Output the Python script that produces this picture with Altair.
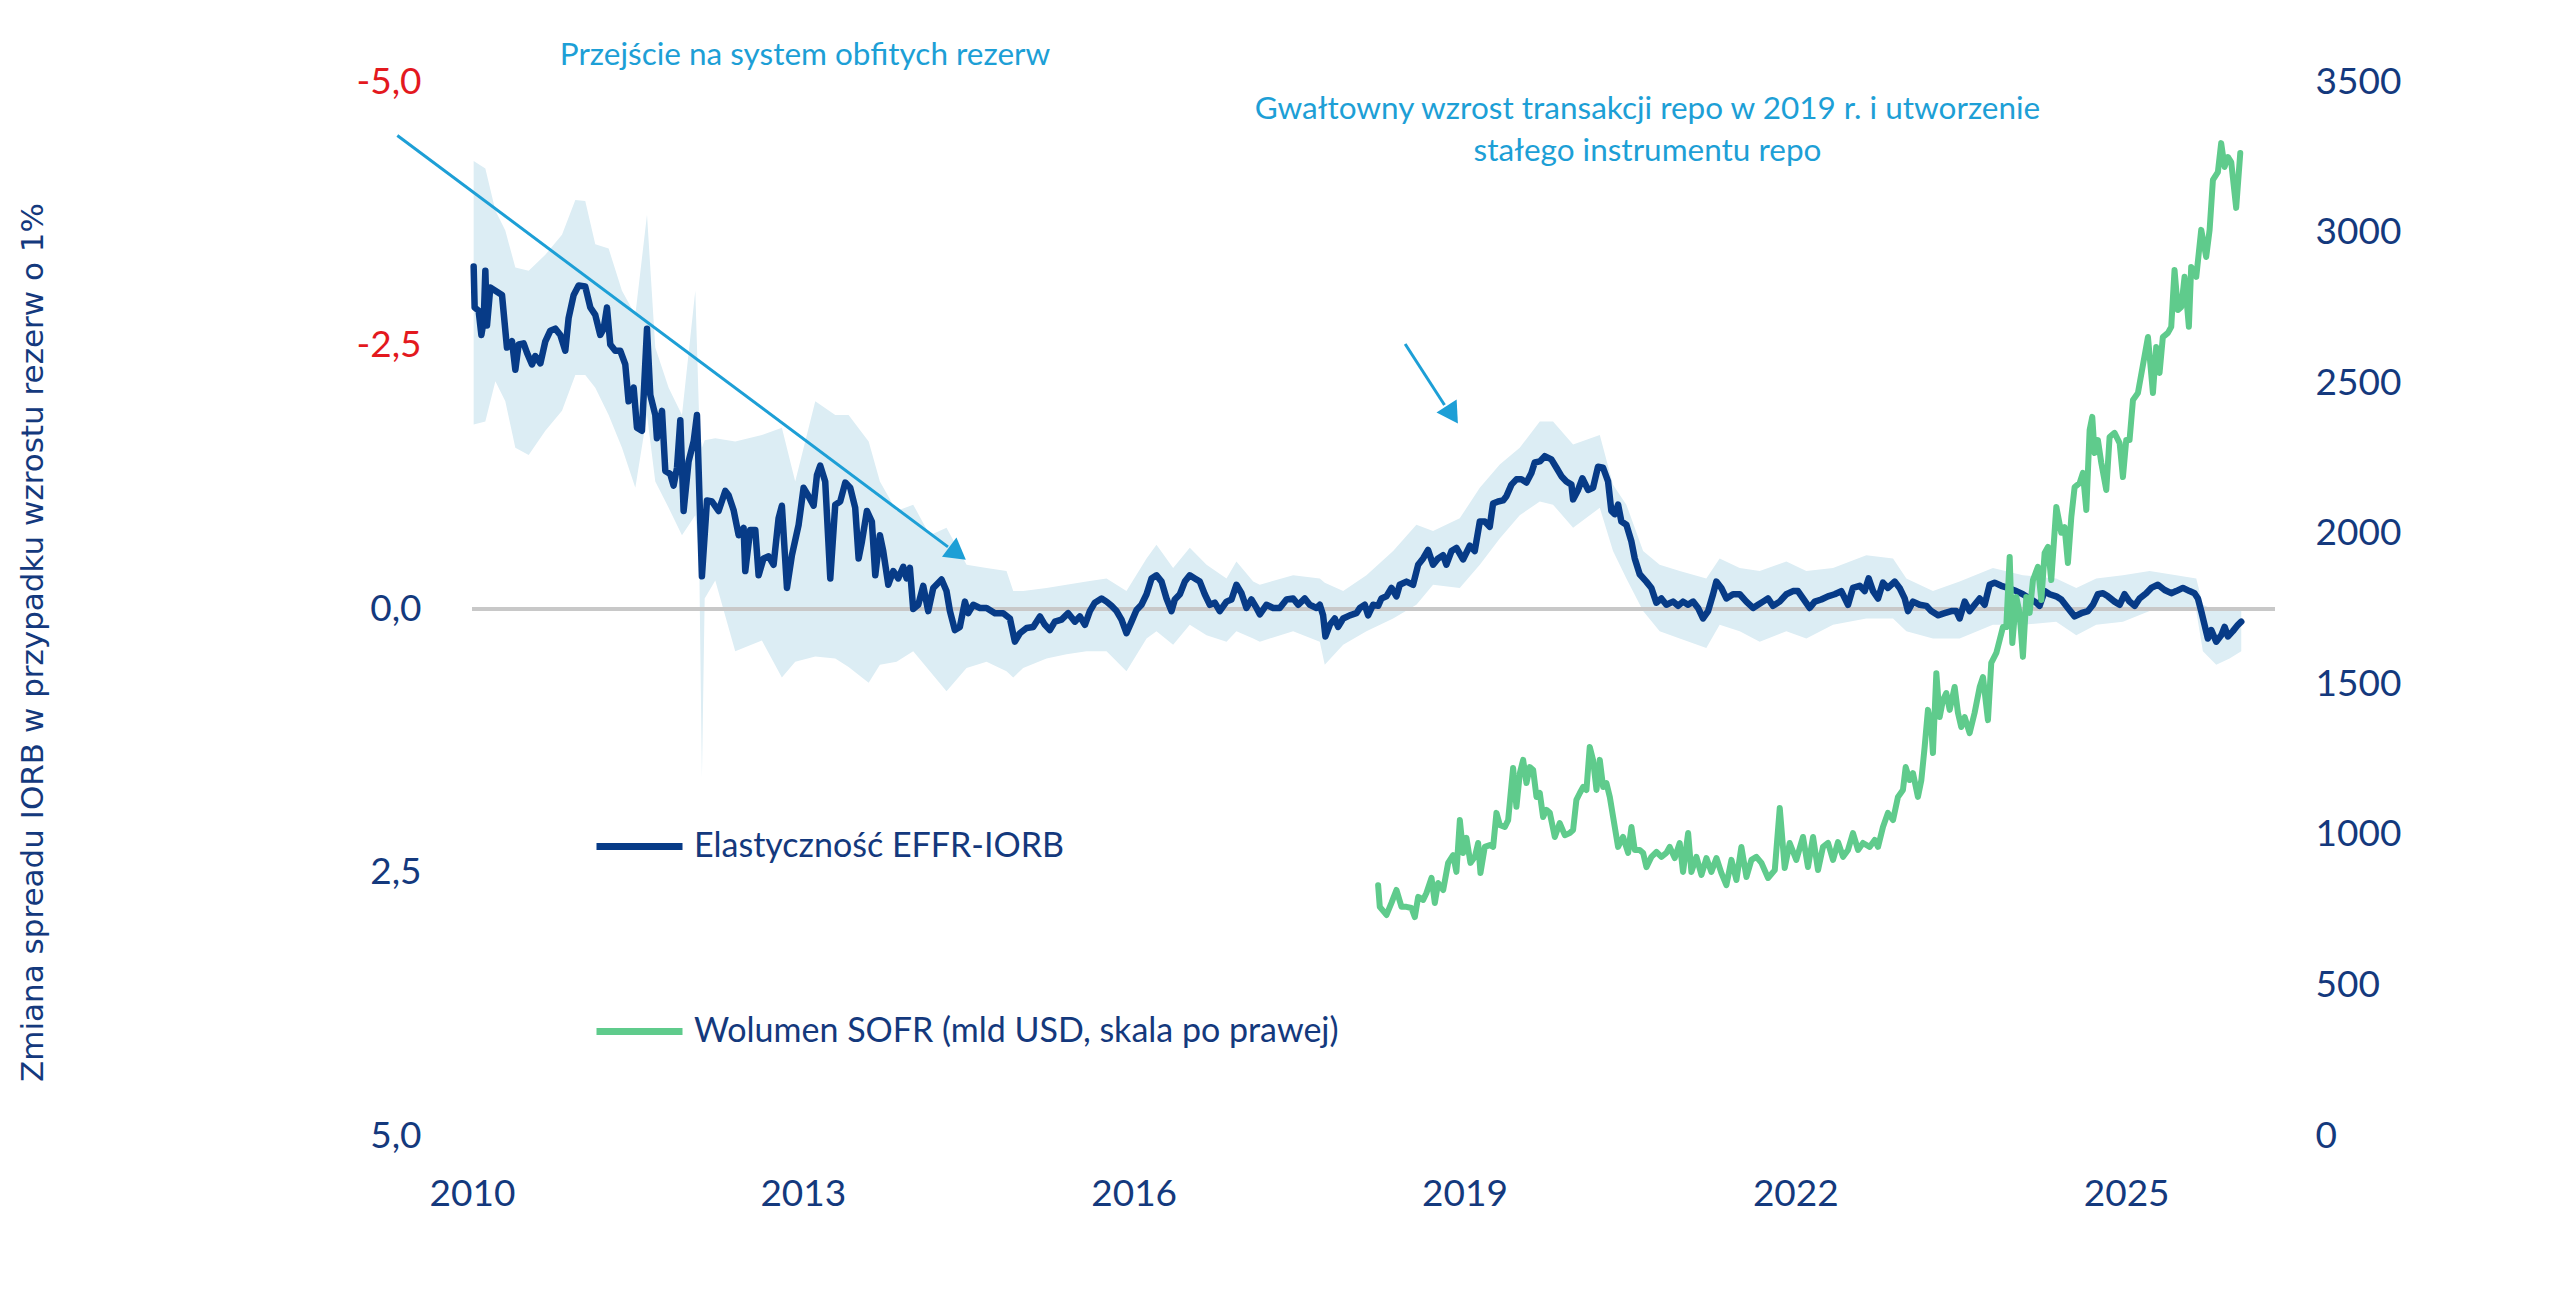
import altair as alt
import pandas as pd

NAVY = "#14397d"
BLUE = "#073b87"
GREEN = "#5fcb8c"
BAND = "#dcedf4"
CYAN = "#1d9fd6"
RED = "#e3191e"
FONT = "Lato"

# ---- Elasticity EFFR-IORB (years since 2010, value) ----
el_t = [0.015, 0.024, 0.060, 0.085, 0.106, 0.121, 0.136, 0.166, 0.212, 0.272, 0.317, 0.363, 0.393, 0.423,
        0.468, 0.499, 0.544, 0.574, 0.620, 0.665, 0.710, 0.755, 0.801, 0.846, 0.876, 0.922, 0.967, 1.027,
        1.073, 1.118, 1.163, 1.194, 1.224, 1.254, 1.299, 1.345, 1.390, 1.420, 1.466, 1.496, 1.541, 1.587,
        1.617, 1.662, 1.677, 1.723, 1.753, 1.798, 1.828, 1.859, 1.889, 1.919, 1.964, 2.010, 2.040, 2.085,
        2.131, 2.176, 2.236, 2.297, 2.327, 2.372, 2.418, 2.463, 2.478, 2.523, 2.569, 2.599, 2.644, 2.690,
        2.735, 2.780, 2.810, 2.856, 2.901, 2.962, 3.007, 3.052, 3.098, 3.128, 3.158, 3.203, 3.249, 3.294,
        3.339, 3.385, 3.430, 3.475, 3.506, 3.536, 3.581, 3.626, 3.657,
        3.699, 3.729, 3.775, 3.820, 3.865, 3.911, 3.941, 3.971, 4.001, 4.047, 4.092, 4.137, 4.183, 4.258,
        4.303, 4.334, 4.379, 4.424, 4.470, 4.500, 4.545, 4.606, 4.666, 4.742, 4.817, 4.878, 4.923, 4.968,
        5.029, 5.089, 5.150, 5.195, 5.240, 5.286, 5.346, 5.406, 5.467, 5.512, 5.558, 5.603, 5.648, 5.709,
        5.754, 5.799, 5.845, 5.890, 5.935, 5.981, 6.026, 6.071, 6.117, 6.162, 6.207, 6.253, 6.298, 6.343,
        6.373, 6.419, 6.464, 6.509, 6.555, 6.600, 6.645, 6.691, 6.736, 6.781, 6.842, 6.887, 6.932, 6.978,
        7.023, 7.068, 7.114,
        7.144, 7.204, 7.265, 7.325, 7.386, 7.446, 7.492, 7.552, 7.597, 7.658, 7.688, 7.718, 7.739, 7.779,
        7.824, 7.854, 7.900, 7.960, 8.020, 8.051, 8.096, 8.126, 8.171, 8.217, 8.247, 8.292, 8.338, 8.383,
        8.413, 8.474, 8.534, 8.580, 8.625, 8.670, 8.715, 8.761, 8.806, 8.836, 8.882, 8.927, 8.987, 9.048,
        9.093, 9.139, 9.184, 9.229, 9.259, 9.305, 9.350, 9.380, 9.426, 9.471, 9.516, 9.562, 9.607, 9.637,
        9.683, 9.728, 9.788, 9.834, 9.879, 9.924, 9.970, 9.985, 10.030, 10.069, 10.121, 10.166, 10.211,
        10.257, 10.302, 10.332, 10.362, 10.393, 10.423, 10.468, 10.514, 10.544,
        10.589, 10.649, 10.695, 10.740, 10.785, 10.831, 10.891, 10.937, 10.982, 11.027, 11.073, 11.118,
        11.163, 11.209, 11.254, 11.284, 11.329, 11.375, 11.435, 11.496, 11.556, 11.617, 11.662, 11.707,
        11.752, 11.798, 11.858, 11.919, 11.979, 12.024, 12.070, 12.130, 12.176, 12.236, 12.296, 12.357,
        12.417, 12.478, 12.523, 12.584, 12.629, 12.665, 12.705, 12.750, 12.795, 12.840, 12.901, 12.946,
        12.992, 13.022, 13.067, 13.128, 13.188, 13.233, 13.294, 13.354, 13.415, 13.460, 13.490, 13.536,
        13.581, 13.626, 13.672, 13.717,
        13.762, 13.807, 13.868, 13.928, 14.004, 14.064, 14.125, 14.185, 14.215, 14.261, 14.306, 14.366,
        14.412, 14.472, 14.533, 14.593, 14.654, 14.699, 14.744, 14.790, 14.835, 14.895, 14.941, 14.986,
        15.031, 15.077, 15.122, 15.182, 15.228, 15.288, 15.349, 15.409, 15.454, 15.515, 15.575, 15.620,
        15.651, 15.681, 15.711, 15.741, 15.772, 15.817, 15.862, 15.893, 15.923, 15.968, 16.014, 16.044]
el_v = [-3.25, -2.86, -2.83, -2.60, -2.73, -3.21, -2.69, -3.05, -3.02, -2.98, -2.48, -2.54, -2.27, -2.51,
        -2.52, -2.43, -2.32, -2.40, -2.33, -2.54, -2.64, -2.66, -2.60, -2.45, -2.76, -2.98, -3.07, -3.06,
        -2.86, -2.79, -2.60, -2.66, -2.86, -2.51, -2.45, -2.45, -2.32, -1.97, -2.10, -1.72, -1.69, -2.66,
        -2.03, -1.84, -1.62, -1.88, -1.31, -1.28, -1.17, -1.34, -1.79, -0.93, -1.40, -1.59, -1.84, -0.31,
        -1.03, -1.02, -0.93, -1.12, -1.08, -0.94, -0.70, -0.77, -0.36, -0.75, -0.75, -0.32, -0.48, -0.50,
        -0.42, -0.86, -0.98, -0.20, -0.51, -0.80, -1.15, -1.07, -0.98, -1.27, -1.36, -1.21, -0.29, -0.99,
        -1.02, -1.20, -1.15, -0.96, -0.48, -0.64, -0.93, -0.83, -0.32,
        -0.70, -0.55, -0.23, -0.36, -0.29, -0.40, -0.29, -0.39, 0.00, -0.04, -0.22, 0.02, -0.20, -0.28,
        -0.17, 0.02, 0.20, 0.17, -0.07, 0.04, -0.04, -0.01, -0.01, 0.04, 0.04, 0.09, 0.31, 0.23,
        0.18, 0.17, 0.07, 0.15, 0.20, 0.12, 0.10, 0.04, 0.12, 0.07, 0.15, 0.02, -0.06, -0.10,
        -0.07, -0.03, 0.02, 0.10, 0.23, 0.12, 0.01, -0.04, -0.14, -0.29, -0.32, -0.26, -0.10, 0.02,
        -0.09, -0.14, -0.26, -0.32, -0.29, -0.26, -0.14, -0.04, -0.06, 0.02, -0.07, -0.09, -0.23, -0.15,
        -0.01, -0.09, -0.01,
        0.05, -0.04, -0.01, -0.01, -0.09, -0.10, -0.04, -0.10, -0.04, -0.01, -0.04, 0.06, 0.26, 0.15,
        0.09, 0.17, 0.09, 0.06, 0.04, -0.01, -0.04, 0.06, -0.04, -0.03, -0.10, -0.12, -0.20, -0.12,
        -0.23, -0.26, -0.23, -0.42, -0.48, -0.56, -0.42, -0.48, -0.51, -0.42, -0.55, -0.58, -0.47, -0.60,
        -0.55, -0.83, -0.83, -0.78, -1.00, -1.02, -1.03, -1.07, -1.18, -1.23, -1.23, -1.20, -1.29, -1.39,
        -1.40, -1.45, -1.42, -1.34, -1.26, -1.21, -1.18, -1.04, -1.13, -1.24, -1.13, -1.15, -1.35,
        -1.34, -1.21, -0.93, -0.90, -0.99, -0.83, -0.80, -0.64, -0.48,
        -0.33, -0.26, -0.20, -0.06, -0.10, -0.04, -0.07, -0.03, -0.07, -0.04, -0.07, -0.01,
        0.09, 0.02, -0.14, -0.26, -0.20, -0.10, -0.14, -0.14, -0.07, -0.01, -0.04, -0.07,
        -0.10, -0.03, -0.07, -0.14, -0.17, -0.17, -0.10, -0.01, -0.07, -0.09, -0.12, -0.14,
        -0.17, -0.04, -0.20, -0.22, -0.17, -0.29, -0.17, -0.10, -0.25, -0.20, -0.26, -0.20,
        -0.10, 0.02, -0.07, -0.04, -0.03, 0.02, 0.06, 0.04, 0.02, 0.02, 0.09, -0.07,
        0.02, -0.04, -0.10, -0.04,
        -0.23, -0.25, -0.22, -0.20, -0.17, -0.14, -0.10, -0.06, -0.03, -0.17, -0.14, -0.12,
        -0.09, -0.01, 0.07, 0.04, 0.02, -0.04, -0.14, -0.15, -0.12, -0.07, -0.04, -0.14,
        -0.07, -0.03, -0.10, -0.15, -0.20, -0.23, -0.18, -0.15, -0.17, -0.20, -0.17, -0.15,
        -0.10, 0.02, 0.15, 0.28, 0.20, 0.31, 0.25, 0.17, 0.26, 0.21, 0.15, 0.12]

# ---- Confidence band (years since 2010, upper edge on chart, lower edge on chart) ----
band_t = [0.015, 0.121, 0.212, 0.302, 0.393, 0.514, 0.665, 0.816, 0.937, 1.027, 1.118, 1.239, 1.360,
          1.481, 1.587, 1.662, 1.783, 1.904, 2.025, 2.060, 2.085, 2.110, 2.206, 2.387, 2.629, 2.810,
          2.931, 3.113, 3.294, 3.415, 3.597, 3.699, 3.850, 4.001, 4.152, 4.303, 4.485, 4.666, 4.847,
          4.908, 4.998, 5.210, 5.391, 5.573, 5.754, 5.935, 6.117, 6.207, 6.358, 6.509, 6.661, 6.842,
          6.932, 7.084, 7.144, 7.446, 7.688, 7.733, 7.900, 8.111, 8.353, 8.564, 8.715, 8.957, 9.139,
          9.320, 9.501, 9.683, 9.803, 9.985, 10.227, 10.347, 10.468, 10.620, 10.770, 10.952, 11.193,
          11.314, 11.496, 11.677, 11.919, 12.100, 12.342, 12.644, 12.886, 13.007, 13.248, 13.490,
          13.792, 14.064, 14.366, 14.548, 14.729, 14.971, 15.213, 15.454, 15.636, 15.696, 15.817,
          15.938, 16.044]
band_hi = [-4.25, -4.18, -3.78, -3.59, -3.24, -3.21, -3.36, -3.55, -3.88, -3.87, -3.46, -3.42, -3.02,
           -2.79, -3.74, -2.48, -2.10, -1.84, -3.02, -1.80, -1.53, -1.60, -1.62, -1.59, -1.65, -1.72,
           -1.21, -1.97, -1.84, -1.84, -1.59, -1.21, -0.93, -0.99, -0.70, -0.77, -0.42, -0.39, -0.36,
           -0.17, -0.17, -0.20, -0.23, -0.26, -0.29, -0.17, -0.48, -0.61, -0.39, -0.58, -0.42, -0.29,
           -0.45, -0.26, -0.23, -0.32, -0.29, -0.25, -0.17, -0.32, -0.55, -0.80, -0.74, -0.86, -1.15,
           -1.37, -1.53, -1.78, -1.78, -1.56, -1.65, -1.18, -0.99, -0.55, -0.42, -0.36, -0.29,
           -0.48, -0.39, -0.36, -0.45, -0.36, -0.39, -0.51, -0.48, -0.29, -0.17, -0.26,
           -0.39, -0.32, -0.29, -0.20, -0.29, -0.32, -0.36, -0.32, -0.29, -0.04, 0.02,
           -0.01, -0.01]
band_lo = [-1.75, -1.78, -2.16, -1.97, -1.53, -1.46, -1.69, -1.88, -2.22, -2.22, -2.10, -1.84, -1.53,
           -1.15, -1.84, -1.21, -0.96, -0.70, -0.89, -0.50, 1.60, -0.10, -0.27, 0.40, 0.30, 0.65,
           0.50, 0.45, 0.47, 0.55, 0.70, 0.53, 0.50, 0.40, 0.59, 0.78, 0.56, 0.50, 0.59,
           0.65, 0.56, 0.47, 0.43, 0.40, 0.40, 0.59, 0.28, 0.21, 0.34, 0.15, 0.25, 0.31,
           0.21, 0.28, 0.31, 0.21, 0.31, 0.53, 0.34, 0.21, 0.09, -0.04, -0.23, -0.20, -0.42,
           -0.67, -0.89, -1.02, -0.99, -0.77, -0.96, -0.55, -0.29, 0.02, 0.21, 0.28, 0.37,
           0.15, 0.21, 0.31, 0.21, 0.28, 0.15, 0.09, 0.09, 0.21, 0.28, 0.28,
           0.15, 0.15, 0.12, 0.25, 0.15, 0.12, 0.02, -0.01, 0.02, 0.40, 0.53,
           0.47, 0.40]

# ---- SOFR volume, bn USD (years since 2010, value) ----
sofr_t = [8.217, 8.232, 8.293, 8.338, 8.383, 8.429, 8.474, 8.519, 8.550, 8.580, 8.625, 8.655, 8.701,
          8.731, 8.761, 8.807, 8.852, 8.897, 8.927, 8.958, 8.988, 9.018, 9.054, 9.094, 9.124, 9.145,
          9.184, 9.230, 9.260, 9.290, 9.320, 9.366, 9.396, 9.441, 9.471, 9.502, 9.532, 9.562, 9.592,
          9.623, 9.653, 9.683, 9.713, 9.743, 9.774, 9.819, 9.864, 9.910, 9.955, 9.985, 10.015, 10.046,
          10.076, 10.106, 10.136, 10.166, 10.197, 10.227, 10.257, 10.287, 10.318, 10.348, 10.393,
          10.438, 10.484, 10.514, 10.544, 10.589, 10.620, 10.650, 10.695, 10.741, 10.786, 10.831,
          10.861, 10.907, 10.952, 10.982, 11.028, 11.058, 11.103, 11.149, 11.194, 11.239, 11.285,
          11.330, 11.375, 11.421, 11.466, 11.511, 11.557, 11.602, 11.647, 11.693, 11.753, 11.814,
          11.859, 11.904,
          11.949, 12.009, 12.070, 12.115, 12.161, 12.206, 12.251, 12.297, 12.342, 12.387, 12.433,
          12.478, 12.523, 12.569, 12.614, 12.674, 12.720, 12.750, 12.795, 12.840, 12.886, 12.931,
          12.976, 13.001, 13.037, 13.067, 13.112, 13.143, 13.173, 13.203, 13.233, 13.248, 13.279,
          13.309, 13.339, 13.369, 13.400, 13.445, 13.475, 13.505, 13.536, 13.581, 13.626, 13.672,
          13.702, 13.747, 13.777, 13.823, 13.853, 13.883, 13.913, 13.944, 13.968, 14.004, 14.034,
          14.064, 14.095, 14.125, 14.155, 14.200, 14.231, 14.261, 14.291, 14.321, 14.367, 14.412,
          14.442, 14.472, 14.503, 14.533, 14.578, 14.608, 14.639, 14.669, 14.693, 14.714, 14.744,
          14.775, 14.820, 14.850, 14.895, 14.941, 14.971, 15.001, 15.031, 15.062, 15.107,
          15.198, 15.243, 15.273, 15.303, 15.333, 15.379, 15.409, 15.439, 15.470, 15.500, 15.530,
          15.569, 15.590, 15.636, 15.681, 15.726, 15.757, 15.787, 15.832, 15.862, 15.893, 15.923,
          15.953, 15.998, 16.035]
sofr_v = [833, 761, 734, 774, 817, 761, 761, 757, 727, 794, 784, 807, 857,
          774, 840, 817, 907, 933, 877, 1049, 940, 990, 907, 927, 973, 873,
          960, 966, 960, 1073, 1033, 1026, 1049, 1222, 1093, 1205, 1249, 1172, 1225,
          1215, 1126, 1139, 1059, 1083, 1073, 993, 1039, 999, 1006, 1016, 1116, 1139,
          1159, 1149, 1292, 1249, 1149, 1249, 1159, 1172, 1126, 1059, 960,
          993, 940, 1026, 950, 950, 940, 893, 927, 943, 927, 940,
          960, 923, 973, 877, 1006, 877, 927, 867, 923, 877, 923,
          873, 833, 917, 850, 960, 860, 917, 927, 907, 857, 883,
          1089, 890,
          973, 917, 993, 893, 993, 883, 960, 973, 917, 976, 927,
          950, 1006, 950, 973, 960, 983, 960, 1026, 1073, 1049, 1126,
          1149, 1225, 1182, 1205, 1126, 1182, 1292, 1415, 1358, 1272, 1537,
          1391, 1448, 1471, 1415, 1491, 1405, 1358, 1391, 1338, 1405, 1491,
          1524, 1381, 1571, 1604, 1647, 1690, 1690, 1923, 1637, 1790, 1737,
          1591, 1790, 1737, 1846, 1890, 1780, 1936, 1956, 1846, 2089, 2003,
          2022, 1903, 2056, 2155, 2168, 2202, 2079, 2344, 2388, 2268, 2311,
          2235, 2145, 2321, 2335, 2301, 2188, 2311, 2311, 2444, 2467,
          2653, 2467, 2620, 2534, 2653, 2667, 2687, 2876, 2743, 2753, 2853,
          2687, 2886, 2853, 3009, 2919, 3009, 3175, 3201, 3297, 3218, 3251,
          3234, 3082, 3264]

series = ["Elastyczność EFFR-IORB", "Wolumen SOFR (mld USD, skala po prawej)"]
x_ticks = [2010, 2013, 2016, 2019, 2022, 2025]
y_ticks = [-5, -2.5, 0, 2.5, 5]
r_ticks = [0, 500, 1000, 1500, 2000, 2500, 3000, 3500]

# annotations (in data coordinates: year, left-axis value)
ann_text = ["Przejście na system obfitych rezerw",
            "Gwałtowny wzrost transakcji repo w 2019 r. i utworzenie",
            "stałego instrumentu repo"]
ann_x = [2013.02, 2020.66, 2020.66]
ann_y = [-5.25, -4.73, -4.34]

arr_x = [2009.323, 2018.462]
arr_y = [-4.492, -2.514]
arr_x2 = [2014.316, 2018.819]
arr_y2 = [-0.589, -1.935]
head_x = [2014.403, 2018.889]
head_y = [-0.527, -1.843]
head_ang = [127, 147]

el_df = pd.DataFrame({"year": [2010 + t for t in el_t], "v": el_v, "s": series[0]})
band_df = pd.DataFrame({"year": [2010 + t for t in band_t], "hi": band_hi, "lo": band_lo})
sofr_df = pd.DataFrame({"year": [2010 + t for t in sofr_t], "sofr": sofr_v, "s": series[1]})
ann_df = pd.DataFrame({"x": ann_x, "y": ann_y, "t": ann_text})
arr_df = pd.DataFrame({"x": arr_x, "y": arr_y, "x2": arr_x2, "y2": arr_y2})
head_df = pd.DataFrame({"x": head_x, "y": head_y, "a": head_ang})

xscale = alt.Scale(domain=[2010, 2026.35], nice=False, zero=False)
xaxis = alt.Axis(values=x_ticks, format="d", title=None, grid=False, domain=False, ticks=False,
                 labelFlush=False, labelFont=FONT, labelFontSize=37, labelColor=NAVY, labelPadding=40)
yscale = alt.Scale(domain=[-5, 5], reverse=True, nice=False, zero=False)
yaxis = alt.Axis(values=y_ticks, grid=False, domain=False, ticks=False, labelFlush=False,
                 labelExpr="(datum.value < 0 ? '-' : '') + replace(format(abs(datum.value), '.1f'), '.', ',')",
                 labelColor=alt.ExprRef(expr=f"datum.value < 0 ? '{RED}' : '{NAVY}'"),
                 labelFont=FONT, labelFontSize=37, labelPadding=51,
                 title="Zmiana spreadu IORB w przypadku wzrostu rezerw o 1%",
                 titleFont="DejaVu Sans", titleFontSize=31, titleFontWeight="normal", titleColor=NAVY,
                 titleAngle=270, titleAlign="center", titleBaseline="middle", titleX=-439, titleY=560)

color = alt.Color("s:N", scale=alt.Scale(domain=series, range=[BLUE, GREEN]),
                  legend=alt.Legend(title=None, orient="none", legendX=121, legendY=718,
                                    direction="vertical", symbolType="stroke", symbolSize=7396,
                                    symbolStrokeWidth=7, labelFont=FONT, labelFontSize=34,
                                    labelColor=NAVY, labelOffset=8, rowPadding=121, padding=0,
                                    labelLimit=1200))

band = alt.Chart(band_df).mark_area(color=BAND, opacity=1).encode(
    x=alt.X("year:Q", scale=xscale, axis=xaxis),
    y=alt.Y("lo:Q", scale=yscale, axis=yaxis),
    y2="hi:Q",
)
zero = alt.Chart(el_df).mark_rule(color="#c8c8c8", strokeWidth=3).encode(y=alt.datum(0))
el_line = alt.Chart(el_df).mark_line(strokeWidth=6.5, strokeJoin="round", strokeCap="round").encode(
    x="year:Q", y="v:Q", color=color)
arrows = alt.Chart(arr_df).mark_rule(color=CYAN, strokeWidth=3).encode(
    x="x:Q", y="y:Q", x2="x2:Q", y2="y2:Q")
heads = alt.Chart(head_df).mark_point(shape="triangle-up", filled=True, size=576, color=CYAN, opacity=1).encode(
    x="x:Q", y="y:Q", angle=alt.Angle("a:Q", scale=None))
texts = alt.Chart(ann_df).mark_text(font=FONT, fontSize=31.5, color=CYAN, align="center", baseline="middle").encode(
    x="x:Q", y="y:Q", text="t:N")

left = alt.layer(band, zero, el_line, arrows, heads, texts)

sofr_line = alt.Chart(sofr_df).mark_line(strokeWidth=6, strokeJoin="round", strokeCap="round").encode(
    x="year:Q",
    y=alt.Y("sofr:Q", scale=alt.Scale(domain=[0, 3500], nice=False, zero=True),
            axis=alt.Axis(orient="right", values=r_ticks, format="d", title=None, grid=False,
                          domain=False, ticks=False, labelFlush=False, labelFont=FONT, labelFontSize=37,
                          labelColor=NAVY, labelPadding=40)),
    color=color,
)

chart = alt.layer(left, sofr_line).resolve_scale(y="independent").properties(
    width=1803, height=1054,
    padding={"left": 472, "top": 82, "right": 285, "bottom": 170},
    autosize=alt.AutoSizeParams(type="none"),
    background="white",
).configure_view(stroke="transparent")

chart.save("out.html", embed_options={"renderer": "svg", "actions": False})
